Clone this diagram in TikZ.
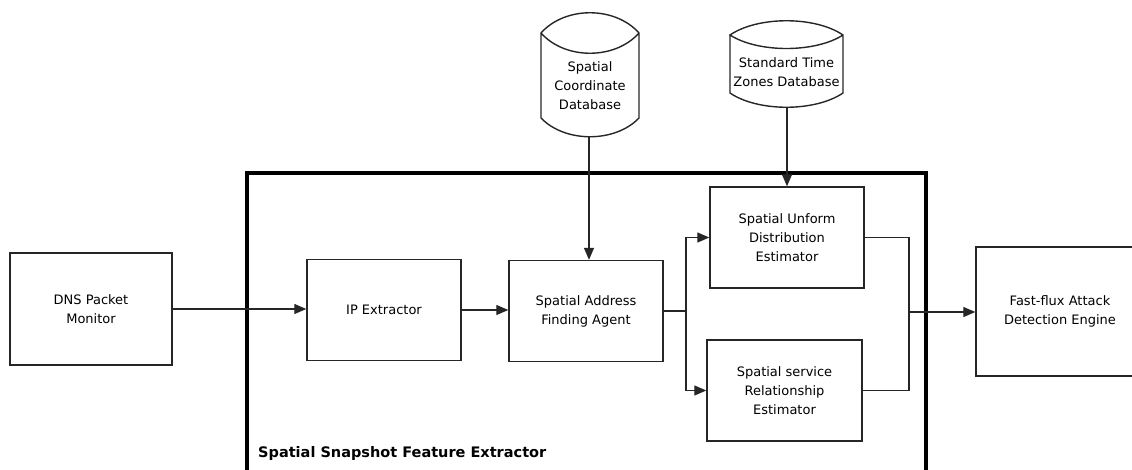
\documentclass[tikz,border=0pt]{standalone}
\usepackage{fontspec}
\setmainfont{DejaVu Sans}
\usetikzlibrary{arrows.meta,calc}
\tikzset{
  blk/.style={draw=black!85, line width=1.4pt, align=center, inner sep=0pt,
    font=\fontsize{13}{19}\selectfont},
  dbtext/.style={align=center, inner sep=0pt, font=\fontsize{13}{19}\selectfont},
  conn/.style={draw=black!85, line width=1.3pt},
  arr/.style={conn, -{Triangle[length=12pt,width=10pt]}},
  frame/.style={draw=black, line width=4.5pt},
  dbshape/.style={draw=black!85, line width=1.4pt}
}
\begin{document}
\begin{tikzpicture}[x=1pt,y=-1pt]
\useasboundingbox (0,0) rectangle (1132,469);
\clip (0,0) rectangle (1132,469);
% outer frame
\draw[frame] (247,173) rectangle (926,490);
\node[anchor=west, inner sep=0pt, font=\bfseries\fontsize{14.5}{16}\selectfont] (lbl) at (258,453) {Spatial Snapshot Feature Extractor};
% blocks
\node[blk, minimum width=162pt, minimum height=112pt] (dns) at (91,309) {DNS Packet\\Monitor};
\node[blk, minimum width=154pt, minimum height=101pt] (ip) at (384,310) {IP Extractor};
\node[blk, minimum width=154pt, minimum height=101pt] (sa) at (586,311) {Spatial Address\\Finding Agent};
\node[blk, minimum width=154pt, minimum height=101pt] (ue) at (787,237.5) {Spatial Unform\\Distribution\\Estimator};
\node[blk, minimum width=155pt, minimum height=101pt] (se) at (784.5,390.5) {Spatial service\\Relationship\\Estimator};
\node[blk, minimum width=168pt, minimum height=129pt] (ff) at (1060,311.5) {Fast-flux Attack\\Detection Engine};
% database 1
\def\dbA{541}\def\dbB{639}
\draw[dbshape] (\dbA,33) -- (\dbA,118)
  .. controls (\dbA+24,118+25) and (\dbB-24,118+25) .. (\dbB,118)
  -- (\dbB,33)
  .. controls (\dbB-24,33-27) and (\dbA+24,33-27) .. (\dbA,33)
  .. controls (\dbA+24,33+27) and (\dbB-24,33+27) .. (\dbB,33);
\node[dbtext] (db1) at (590,86) {Spatial\\Coordinate\\Database};
\coordinate (db1b) at (589,137);
% database 2
\def\dbC{730}\def\dbD{843}
\draw[dbshape] (\dbC,35) -- (\dbC,93)
  .. controls (\dbC+28,93+19) and (\dbD-28,93+19) .. (\dbD,93)
  -- (\dbD,35)
  .. controls (\dbD-28,35-19) and (\dbC+28,35-19) .. (\dbC,35)
  .. controls (\dbC+28,35+18) and (\dbD-28,35+18) .. (\dbD,35);
\node[dbtext] (db2) at (786.5,72) {Standard Time\\Zones Database};
\coordinate (db2b) at (787,107);
% connectors
\draw[arr] (db1b) -- (db1b |- sa.north);
\draw[arr] (db2b) -- (db2b |- ue.north);
\draw[arr] (dns.east) -- (dns.east -| ip.west);
\draw[arr] (ip.east) -- (ip.east -| sa.west);
\coordinate (split) at (686,311);
\draw[conn] (sa.east) -- (split);
\draw[arr] (split) |- (ue.west);
\draw[arr] (split) |- (se.west);
\coordinate (merge) at (909,312);
\draw[conn] (ue.east) -| (merge);
\draw[conn] (se.east) -| (merge);
\draw[arr] (merge) -- (merge -| ff.west);
\end{tikzpicture}
\end{document}
